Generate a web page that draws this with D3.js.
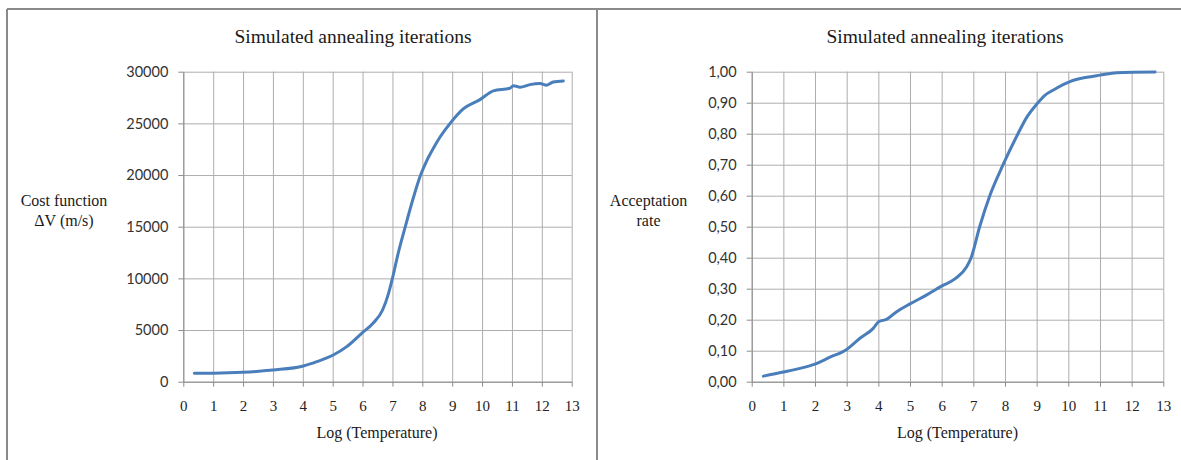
<!DOCTYPE html>
<html>
<head>
<meta charset="utf-8">
<script src="https://cdn.jsdelivr.net/npm/d3@7"></script>
<style>
  body { margin: 0; background: #fff; }
  svg { display: block; }
  .tickx text { font-family: "Liberation Serif", serif; font-size: 15px; fill: #222; }
  .ticky text { font-family: Lato, sans-serif; font-size: 14.5px; fill: #333; }
  .ttl { font-family: "Liberation Serif", serif; fill: #1a1a1a; }
</style>
</head>
<body>
<svg width="1181" height="460"></svg>
<script>
const title = "Simulated annealing iterations";
const x_title = "Log (Temperature)";
const x_ticks = [0,1,2,3,4,5,6,7,8,9,10,11,12,13];

// left chart: cost function vs log(T)
const cost_t = [0.37,1.0,2.0,3.0,4.02,4.47,5.02,5.47,5.97,6.35,6.67,6.87,7.0,7.19,7.43,7.7,7.93,
                8.15,8.37,8.6,8.93,9.37,9.93,10.38,10.93,11.05,11.27,11.6,11.94,12.16,12.38,12.72];
const cost_v = [810,820,910,1130,1520,1940,2580,3390,4680,5650,6940,8550,10000,12400,15000,17800,19900,
                21400,22600,23700,25000,26400,27300,28150,28400,28650,28500,28750,28850,28700,29000,29100];
const cost_ticks = [0,5000,10000,15000,20000,25000,30000];
const cost_label = ["Cost function","\u0394V (m/s)"];

// right chart: acceptation rate vs log(T)
const acc_t = [0.37,1.0,1.53,2.0,2.47,3.0,3.42,3.84,4.02,4.26,4.58,5.0,5.53,6.01,6.44,6.79,6.93,
               7.2,7.52,7.94,8.41,8.7,9.0,9.25,9.53,10.05,10.58,11.0,11.53,12.74];
const acc_v = [.018,.031,.043,.057,.079,.104,.14,.172,.194,.201,.226,.251,.28,.309,.333,.371,.40,
               .50,.60,.70,.80,.855,.895,.923,.941,.968,.982,.989,.997,.999];
const acc_ticks = [0,.1,.2,.3,.4,.5,.6,.7,.8,.9,1];
const acc_label = ["Acceptation","rate"];

const line_color = "#4a7ebb";
const grid_color = "#adadad";
const axis_color = "#8c8c8c";

function draw_chart(svg, opt){
    var x = d3.scaleLinear().domain([0,13]).range([opt.x0, opt.x1]);
    var y = d3.scaleLinear().domain(opt.ydom).range([381.7, 71.7]);
    var g = svg.append("g");

    // grid
    g.append("g")
     .attr("transform","translate(0,381.7)")
     .call(d3.axisBottom(x).tickValues(x_ticks).tickSize(-310).tickFormat(""))
     .call(s => s.select(".domain").remove())
     .selectAll("line").attr("stroke", grid_color);
    g.append("g")
     .attr("transform","translate(" + opt.x0 + ",0)")
     .call(d3.axisLeft(y).tickValues(opt.yticks).tickSize(-(opt.x1-opt.x0)).tickFormat(""))
     .call(s => s.select(".domain").remove())
     .selectAll("line").attr("stroke", grid_color);

    // axes
    var xa = g.append("g").attr("class","tickx")
     .attr("transform","translate(0,381.7)")
     .call(d3.axisBottom(x).tickValues(x_ticks).tickSize(5).tickSizeOuter(0).tickPadding(14));
    var ya = g.append("g").attr("class","ticky")
     .attr("transform","translate(" + opt.x0 + ",0)")
     .call(d3.axisLeft(y).tickValues(opt.yticks).tickSize(5).tickSizeOuter(0).tickPadding(10).tickFormat(opt.fmt));
    [xa, ya].forEach(function(a){
        a.select(".domain").attr("stroke", axis_color);
        a.selectAll("line").attr("stroke", axis_color);
    });

    var line = d3.line().x(d => x(d[0])).y(d => y(d[1])).curve(d3.curveMonotoneX);
    g.append("path")
     .datum(d3.zip(opt.t, opt.v))
     .attr("d", line)
     .attr("fill","none")
     .attr("stroke", line_color)
     .attr("stroke-width", 3)
     .attr("stroke-linejoin","round")
     .attr("stroke-linecap","round");

    g.append("text").attr("class","ttl")
     .attr("x", opt.title_x).attr("y", 43)
     .attr("text-anchor","middle").style("font-size","19.5px")
     .text(title);
    g.append("text").attr("class","ttl")
     .attr("x", opt.xlab_x).attr("y", 438)
     .attr("text-anchor","middle").style("font-size","16px")
     .text(x_title);
    opt.ylab.forEach(function(s, i){
        g.append("text").attr("class","ttl")
         .attr("x", opt.ylab_x).attr("y", 206 + i*19.5)
         .attr("text-anchor","middle").style("font-size","16px")
         .text(s);
    });
};

function init(){
    var svg = d3.select("svg");
    // frame
    var frame = svg.append("g").attr("stroke","#8a8a8a").attr("stroke-width",2).attr("fill","none");
    frame.append("line").attr("x1",7).attr("y1",9).attr("x2",1181).attr("y2",9);
    frame.append("line").attr("x1",7).attr("y1",9).attr("x2",7).attr("y2",460);
    frame.append("line").attr("x1",597).attr("y1",9).attr("x2",597).attr("y2",460);

    draw_chart(svg, {
        x0: 183.3, x1: 571.7, ydom: [0,30000], yticks: cost_ticks,
        fmt: d3.format("d"), t: cost_t, v: cost_v,
        title_x: 353, xlab_x: 377, ylab_x: 64, ylab: cost_label
    });
    draw_chart(svg, {
        x0: 751.7, x1: 1163.3, ydom: [0,1], yticks: acc_ticks,
        fmt: d => d3.format(".2f")(d).replace(".", ","), t: acc_t, v: acc_v,
        title_x: 945, xlab_x: 957.5, ylab_x: 648.5, ylab: acc_label
    });
};

window.addEventListener("load", init);
</script>
</body>
</html>
